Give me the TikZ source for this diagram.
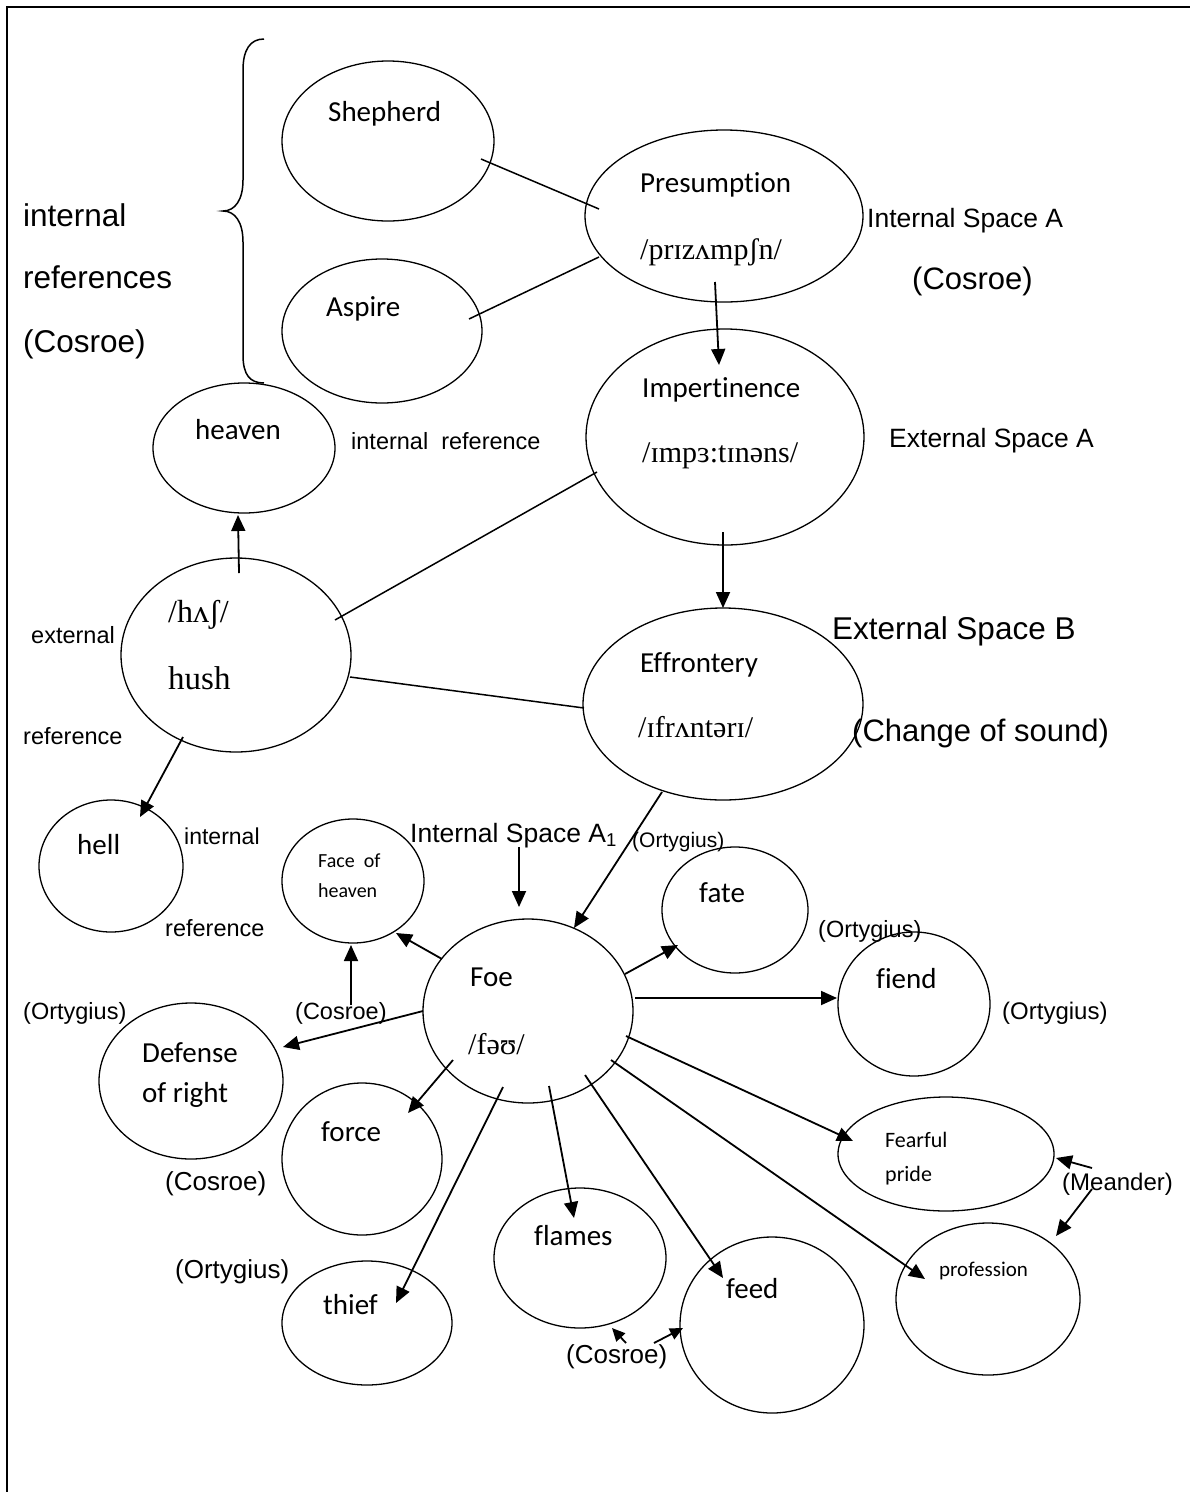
\documentclass[tikz,border=0pt]{standalone}
\usepackage{fontspec}
\setmainfont{Liberation Sans}
\newfontfamily\calfont[Ligatures=NoCommon]{Carlito}
\newfontfamily\ipafont{Liberation Serif}
\usetikzlibrary{shapes.geometric,arrows.meta,calc}
\newcommand\fsz[1]{\fontsize{#1}{#1}\selectfont}

\begin{document}
\begin{tikzpicture}[x=1pt,y=-1pt,
  ell/.style={draw, ellipse, line width=1.3pt, inner sep=0pt},
  lbl/.style={anchor=mid west, inner sep=0pt, yshift=-7pt},
  word/.style={lbl, font=\calfont\fsz{29}},
  ipa/.style={lbl, font=\ipafont\fsz{30}},
  conn/.style={line width=1.5pt},
  arr/.style={line width=1.8pt, -{Triangle[length=16pt,width=14pt]}},
  sarr/.style={line width=1.8pt, -{Triangle[length=13pt,width=12pt]}}]

\useasboundingbox (0,0) rectangle (1190,1492);
\fill[white] (0,0) rectangle (1190,1492);

% frame
\draw[line width=2.4pt] (7,1492) -- (7,7) -- (1190,7);

% brace grouping the internal references
\draw[line width=1.5pt] (264,39) .. controls (250,39) and (243,50) .. (243,70)
  -- (243,180) .. controls (243,200) and (235,211) .. (223,211)
  .. controls (235,211) and (243,222) .. (243,242)
  -- (243,355) .. controls (243,375) and (250,383) .. (264,383);

% ellipses
\node[ell, minimum width=212pt, minimum height=160pt] (shep) at (388,141) {};
\node[ell, minimum width=200pt, minimum height=144pt] (aspire) at (382,331) {};
\node[ell, minimum width=182pt, minimum height=130pt] (heaven) at (244,448) {};
\node[ell, minimum width=278pt, minimum height=172pt] (pres) at (724,216) {};
\node[ell, minimum width=278pt, minimum height=216pt] (impert) at (725,437) {};
\node[ell, minimum width=280pt, minimum height=192pt] (effr) at (723,704) {};
\node[ell, minimum width=230pt, minimum height=194pt] (hush) at (236,655) {};
\node[ell, minimum width=144pt, minimum height=132pt] (hell) at (111,866) {};
\node[ell, minimum width=142pt, minimum height=124pt] (faceh) at (353,881) {};
\node[ell, minimum width=210pt, minimum height=184pt] (foe) at (528,1011) {};
\node[ell, minimum width=146pt, minimum height=126pt] (fate) at (735,910) {};
\node[ell, minimum width=152pt, minimum height=144pt] (fiend) at (914,1004) {};
\node[ell, minimum width=184pt, minimum height=156pt] (defense) at (191,1081) {};
\node[ell, minimum width=160pt, minimum height=152pt] (force) at (362,1159) {};
\node[ell, minimum width=216pt, minimum height=114pt] (fearful) at (946,1154) {};
\node[ell, minimum width=172pt, minimum height=140pt] (flames) at (580,1258) {};
\node[ell, minimum width=184pt, minimum height=176pt] (feed) at (772,1325) {};
\node[ell, minimum width=184pt, minimum height=152pt] (profession) at (988,1299) {};
\node[ell, minimum width=170pt, minimum height=124pt] (thief) at (367,1323) {};

% words inside the ellipses
\node[word] (tshep) at (328,112) {Shepherd};
\node[word] (taspire) at (326,307) {Aspire};
\node[word] (theaven) at (195,430) {heaven};
\node[word] (tpres) at (640,183) {Presumption};
\node[ipa] (ipres) at (640,250) {/prɪzʌmpʃn/};
\node[word] (timpert) at (642,388) {Impertinence};
\node[ipa] (iimpert) at (642,453) {/ɪmpɜ:tɪnəns/};
\node[word] (teffr) at (640,663) {Effrontery};
\node[ipa] (ieffr) at (638,728) {/ɪfrʌntərɪ/};
\node[ipa, font=\ipafont\fsz{32}] (ihush) at (168,613) {/hʌʃ/};
\node[ipa, font=\ipafont\fsz{33}] (thush) at (168,680) {hush};
\node[word] (thell) at (77,845) {hell};
\node[word, font=\calfont\fsz{20}] (tface1) at (318,858) {Face\ \ of};
\node[word, font=\calfont\fsz{20}] (tface2) at (318,888) {heaven};
\node[word] (tfoe) at (470,977) {Foe};
\node[ipa] (ifoe) at (468,1045) {/fəʊ/};
\node[word] (tfate) at (699,893) {fate};
\node[word] (tfiend) at (876,979) {fiend};
\node[word] (tdef1) at (142,1053) {Defense};
\node[word] (tdef2) at (142,1093) {of right};
\node[word] (tforce) at (321,1132) {force};
\node[word, font=\calfont\fsz{22}] (tfear1) at (885,1138) {Fearful};
\node[word, font=\calfont\fsz{22}] (tfear2) at (885,1172) {pride};
\node[word] (tflames) at (534,1236) {flames};
\node[word] (tfeed) at (726,1289) {feed};
\node[word, font=\calfont\fsz{21}] (tprof) at (939,1267) {profession};
\node[word] (tthief) at (323,1305) {thief};

% annotations
\node[lbl, font=\fsz{31.5}] (n1) at (23,217) {internal};
\node[lbl, font=\fsz{31.5}] (n2) at (23,279) {references};
\node[lbl, font=\fsz{31.5}] (n3) at (23,343) {(Cosroe)};
\node[lbl, font=\fsz{23.5}] (n4) at (351,440) {internal\ \ reference};
\node[lbl, font=\fsz{26.5}] (n5) at (867,218) {Internal Space A};
\node[lbl, font=\fsz{31}] (n6) at (912,280) {(Cosroe)};
\node[lbl, font=\fsz{26.5}] (n7) at (889,438) {External Space A};
\node[lbl, font=\fsz{31.5}] (n8) at (832,630) {External Space B};
\node[lbl, font=\fsz{31}] (n9) at (852,732) {(Change of sound)};
\node[lbl, font=\fsz{23.5}] (n10) at (31,634) {external};
\node[lbl, font=\fsz{23.5}] (n11) at (23,735) {reference};
\node[lbl, font=\fsz{23}] (n12) at (184,835) {internal};
\node[lbl, font=\fsz{23.5}] (n13) at (165,927) {reference};
\node[lbl, font=\fsz{26.5}] (n14) at (410,833) {Internal Space A\textsubscript{1}};
\node[lbl, font=\fsz{21}] (n15) at (632,838) {(Ortygius)};
\node[lbl, font=\fsz{23.5}] (n16) at (818,928) {(Ortygius)};
\node[lbl, font=\fsz{24}] (n17) at (1002,1010) {(Ortygius)};
\node[lbl, font=\fsz{23.5}] (n18) at (23,1010) {(Ortygius)};
\node[lbl, font=\fsz{23.5}] (n19) at (295,1010) {(Cosroe)};
\node[lbl, font=\fsz{26}] (n20) at (165,1181) {(Cosroe)};
\node[lbl, font=\fsz{26}] (n21) at (175,1269) {(Ortygius)};
\node[lbl, font=\fsz{24}] (n22) at (1062,1181) {(Meander)};
\node[lbl, font=\fsz{26}] (n23) at (566,1354) {(Cosroe)};

% free ends of the label arrows
\coordinate (a1tail) at (519,847);
\coordinate (cosface) at (351,1005);
\coordinate (meanA) at (1092,1168);
\coordinate (meanB) at (1092,1189);
\coordinate (cosA) at (626,1343);
\coordinate (cosB) at (654,1343);

% plain links
\draw[conn] ($(shep)+(93,18)$) -- ($(pres)+(-125,-7)$);
\draw[conn] ($(aspire)+(87,-12)$) -- ($(pres)+(-125,41)$);
\draw[conn] ($(hush)+(99,-35)$) -- ($(impert)+(-128,35)$);
\draw[conn] ($(hush)+(114,22)$) -- ($(effr)+(-139,4)$);

% arrows
\draw[arr] ($(pres)+(-9,66)$) -- ($(impert)+(-6,-72)$);
\draw[arr] ($(impert)+(-2,95)$) -- ($(effr)+(0,-96)$);
\draw[arr] ($(hush)+(3,-82)$) -- ($(heaven)+(-6,67)$);
\draw[arr] ($(hush)+(-53,82)$) -- ($(hell)+(29,-49)$);
\draw[arr] ($(effr)+(-61,88)$) -- ($(foe)+(46,-83)$);
\draw[arr] (a1tail) -- ($(foe)+(-9,-104)$);
\draw[arr] ($(foe)+(-86,-52)$) -- ($(faceh)+(43,52)$);
\draw[arr] (cosface) -- ($(faceh)+(-2,64)$);
\draw[arr] ($(foe)+(-105,0)$) -- ($(defense)+(92,-34)$);
\draw[arr] ($(foe)+(-75,49)$) -- ($(force)+(46,-46)$);
\draw[arr] ($(foe)+(-25,76)$) -- ($(thief)+(29,-20)$);
\draw[arr] ($(foe)+(21,75)$) -- ($(flames)+(-6,-40)$);
\draw[arr] ($(foe)+(57,64)$) -- ($(feed)+(-49,-47)$);
\draw[arr] ($(foe)+(83,49)$) -- ($(profession)+(-63,-20)$);
\draw[arr] ($(foe)+(98,25)$) -- ($(fearful)+(-93,-13)$);
\draw[arr] ($(foe)+(107,-13)$) -- ($(fiend)+(-77,-6)$);
\draw[arr] ($(foe)+(97,-37)$) -- ($(fate)+(-57,35)$);
\draw[arr] (meanA) -- ($(fearful)+(110,4)$);
\draw[arr] (meanB) -- ($(profession)+(68,-63)$);
\draw[sarr] (cosA) -- ($(flames)+(32,70)$);
\draw[sarr] (cosB) -- ($(feed)+(-89,3)$);
\end{tikzpicture}
\end{document}
